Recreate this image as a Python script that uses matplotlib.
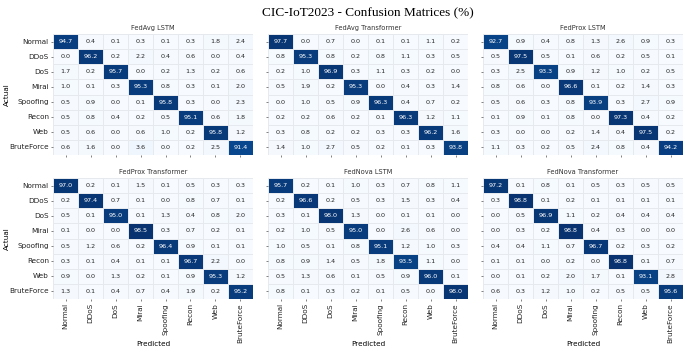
import matplotlib
matplotlib.use("Agg")
import matplotlib.pyplot as plt
import numpy as np
import seaborn as sns

classes = ["Normal", "DDoS", "DoS", "Mirai", "Spoofing", "Recon", "Web", "BruteForce"]

fedavg_lstm = [
    [94.7, 0.4, 0.1, 0.3, 0.1, 0.3, 1.8, 2.4],
    [0.0, 96.2, 0.2, 2.2, 0.4, 0.6, 0.0, 0.4],
    [1.7, 0.2, 95.7, 0.0, 0.2, 1.3, 0.2, 0.6],
    [1.0, 0.1, 0.3, 95.3, 0.8, 0.3, 0.1, 2.0],
    [0.5, 0.9, 0.0, 0.1, 95.8, 0.3, 0.0, 2.3],
    [0.5, 0.8, 0.4, 0.2, 0.5, 95.1, 0.6, 1.8],
    [0.5, 0.6, 0.0, 0.6, 1.0, 0.2, 95.8, 1.2],
    [0.6, 1.6, 0.0, 3.6, 0.0, 0.2, 2.5, 91.4],
]
fedavg_transformer = [
    [97.7, 0.0, 0.7, 0.0, 0.1, 0.1, 1.1, 0.2],
    [0.8, 95.3, 0.8, 0.2, 0.8, 1.1, 0.3, 0.5],
    [0.2, 1.0, 96.9, 0.3, 1.1, 0.3, 0.2, 0.0],
    [0.5, 1.9, 0.2, 95.3, 0.0, 0.4, 0.3, 1.4],
    [0.0, 1.0, 0.5, 0.9, 96.3, 0.4, 0.7, 0.2],
    [0.2, 0.2, 0.6, 0.2, 0.1, 96.3, 1.2, 1.1],
    [0.3, 0.8, 0.2, 0.2, 0.3, 0.3, 96.2, 1.6],
    [1.4, 1.0, 2.7, 0.5, 0.2, 0.1, 0.3, 93.8],
]
fedprox_lstm = [
    [92.7, 0.9, 0.4, 0.8, 1.3, 2.6, 0.9, 0.3],
    [0.5, 97.5, 0.5, 0.1, 0.6, 0.2, 0.5, 0.1],
    [0.3, 2.5, 93.3, 0.9, 1.2, 1.0, 0.2, 0.5],
    [0.8, 0.6, 0.0, 96.6, 0.1, 0.2, 1.4, 0.3],
    [0.5, 0.6, 0.3, 0.8, 93.9, 0.3, 2.7, 0.9],
    [0.1, 0.9, 0.1, 0.8, 0.0, 97.3, 0.4, 0.2],
    [0.3, 0.0, 0.0, 0.2, 1.4, 0.4, 97.5, 0.2],
    [1.1, 0.3, 0.2, 0.5, 2.4, 0.8, 0.4, 94.2],
]
fedprox_transformer = [
    [97.0, 0.2, 0.1, 1.5, 0.1, 0.5, 0.3, 0.3],
    [0.2, 97.4, 0.7, 0.1, 0.0, 0.8, 0.7, 0.1],
    [0.5, 0.1, 95.0, 0.1, 1.3, 0.4, 0.8, 2.0],
    [0.1, 0.0, 0.0, 98.5, 0.3, 0.7, 0.2, 0.1],
    [0.5, 1.2, 0.6, 0.2, 96.4, 0.9, 0.1, 0.1],
    [0.3, 0.1, 0.4, 0.1, 0.1, 96.7, 2.2, 0.0],
    [0.9, 0.0, 1.3, 0.2, 0.1, 0.9, 95.3, 1.2],
    [1.3, 0.1, 0.4, 0.7, 0.4, 1.9, 0.2, 95.2],
]
fednova_lstm = [
    [95.7, 0.2, 0.1, 1.0, 0.3, 0.7, 0.8, 1.1],
    [0.2, 96.6, 0.2, 0.5, 0.3, 1.5, 0.3, 0.4],
    [0.3, 0.1, 98.0, 1.3, 0.0, 0.1, 0.1, 0.0],
    [0.2, 1.0, 0.5, 95.0, 0.0, 2.6, 0.6, 0.0],
    [1.0, 0.5, 0.1, 0.8, 95.1, 1.2, 1.0, 0.3],
    [0.8, 0.9, 1.4, 0.5, 1.8, 93.5, 1.1, 0.0],
    [0.5, 1.3, 0.6, 0.1, 0.5, 0.9, 96.0, 0.1],
    [0.8, 0.1, 0.3, 0.2, 0.1, 0.5, 0.0, 98.0],
]
fednova_transformer = [
    [97.2, 0.1, 0.8, 0.1, 0.5, 0.3, 0.5, 0.5],
    [0.3, 98.8, 0.1, 0.2, 0.1, 0.1, 0.1, 0.1],
    [0.0, 0.5, 96.9, 1.1, 0.2, 0.4, 0.4, 0.4],
    [0.0, 0.3, 0.2, 98.8, 0.4, 0.3, 0.0, 0.0],
    [0.4, 0.4, 1.1, 0.7, 96.7, 0.2, 0.3, 0.2],
    [0.1, 0.1, 0.0, 0.2, 0.0, 98.8, 0.1, 0.7],
    [0.0, 0.1, 0.2, 2.0, 1.7, 0.1, 93.1, 2.8],
    [0.6, 0.3, 1.2, 1.0, 0.2, 0.5, 0.5, 95.6],
]

titles = ["FedAvg LSTM", "FedAvg Transformer", "FedProx LSTM",
          "FedProx Transformer", "FedNova LSTM", "FedNova Transformer"]
matrices = [fedavg_lstm, fedavg_transformer, fedprox_lstm,
            fedprox_transformer, fednova_lstm, fednova_transformer]

fig = plt.figure(figsize=(6.85, 3.52), dpi=100)
W, H = 685, 352
lefts = [53, 268, 483]
tops = [34, 178]
aw, ah = 200, 121

for i, (title, m) in enumerate(zip(titles, matrices)):
    r, c = divmod(i, 3)
    ax = fig.add_axes([lefts[c] / W, 1 - (tops[r] + ah) / H, aw / W, ah / H])
    sns.heatmap(np.array(m), ax=ax, cmap="Blues", vmin=0, vmax=100, cbar=False,
                annot=True, fmt=".1f", annot_kws={"size": 4.6},
                linewidths=0.4, linecolor="#e6e9ee",
                xticklabels=classes, yticklabels=classes)
    ax.set_title(title, fontsize=4.8, pad=3, color="#333333")
    ax.tick_params(length=1.5, width=0.4, pad=1.5, labelsize=5.2, colors="#222222")
    if c == 0:
        ax.set_ylabel("Actual", fontsize=5.2)
        ax.yaxis.set_label_coords(-0.215, 0.5)
        ax.set_yticklabels(classes, rotation=0)
    else:
        ax.set_yticklabels([])
    if r == 1:
        ax.set_xlabel("Predicted", fontsize=5.2)
        ax.xaxis.set_label_coords(0.5, -0.345)
        ax.set_xticklabels(classes, rotation=90)
    else:
        ax.set_xticklabels([])

fig.text(368 / W, 1 - 13 / H, "CIC-IoT2023 - Confusion Matrices (%)",
         ha="center", va="center", fontsize=9.5, family="Liberation Serif")

plt.savefig("out.png", dpi=100)
